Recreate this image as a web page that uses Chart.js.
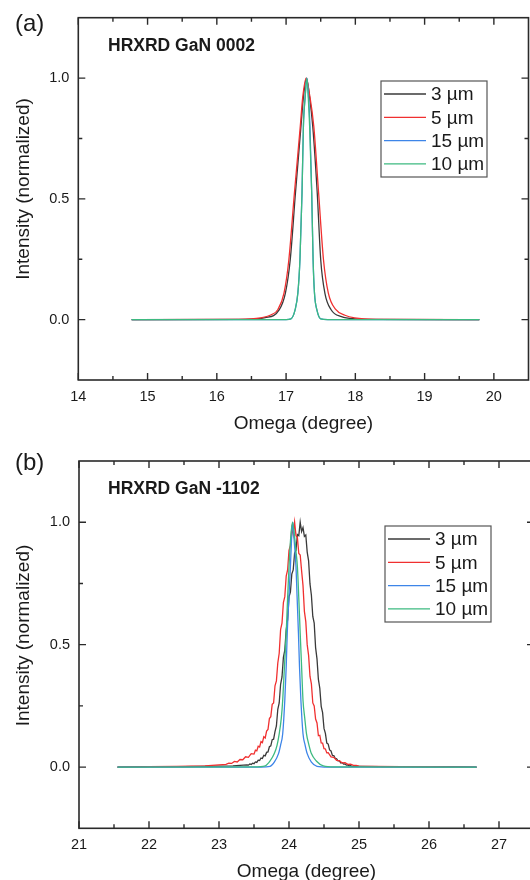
<!DOCTYPE html>
<html>
<head>
<meta charset="utf-8">
<script src="https://cdn.jsdelivr.net/npm/chart.js@4.4.0/dist/chart.umd.min.js"></script>
<style>
  html, body { margin: 0; padding: 0; background: #fff; overflow: hidden; }
  body { width: 530px; height: 880px; position: relative; font-family: "Liberation Sans", Arial, sans-serif; color: #1a1a1a; }
  canvas { position: absolute; left: 0; }
  #chartA { top: 0; }
  #chartB { top: 440px; }
  .panel { position: absolute; left: 15px; font-size: 24px; line-height: 30px; }
  .heading { position: absolute; left: 108px; font-weight: bold; font-size: 17.5px; line-height: 20px; }
</style>
</head>
<body>
<canvas id="chartA" width="530" height="440"></canvas>
<canvas id="chartB" width="540" height="450"></canvas>
<div class="panel" style="top:8px">(a)</div>
<div class="heading" style="top:35px">HRXRD GaN 0002</div>
<div class="panel" style="top:447px">(b)</div>
<div class="heading" style="top:478px">HRXRD GaN -1102</div>
<script>
// legend labels, in legend order
const labels = ['3 µm', '5 µm', '15 µm', '10 µm'];

// tick labels
const xTicksA = [14, 15, 16, 17, 18, 19, 20];
const xTicksB = [21, 22, 23, 24, 25, 26, 27];
const yTicks = [0, 0.5, 1.0];

// (a) GaN 0002 rocking curves
const aX3 = [14.77, 16.4, 16.7, 16.9, 16.99, 17.06, 17.135, 17.215, 17.25, 17.295, 17.34, 17.385, 17.45, 17.50, 17.56, 17.65, 17.8, 18.0, 18.3, 19.79];
const aY3 = [0, 0.001, 0.008, 0.04, 0.11, 0.248, 0.523, 0.80, 0.92, 1.0, 0.92, 0.80, 0.523, 0.248, 0.11, 0.041, 0.012, 0.003, 0.001, 0];
const aX5 = [14.77, 16.3, 16.63, 16.8, 16.88, 16.97, 17.04, 17.12, 17.205, 17.24, 17.29, 17.34, 17.40, 17.47, 17.54, 17.61, 17.72, 17.85, 17.99, 18.3, 19.79];
const aY5 = [0, 0.001, 0.007, 0.022, 0.041, 0.11, 0.248, 0.523, 0.80, 0.92, 1.0, 0.93, 0.80, 0.523, 0.248, 0.11, 0.041, 0.018, 0.007, 0.001, 0];
const aX15 = [14.77, 17.0, 17.07, 17.13, 17.17, 17.20, 17.23, 17.25, 17.275, 17.30, 17.325, 17.345, 17.37, 17.39, 17.41, 17.445, 17.50, 17.6, 19.79];
const aY15 = [0, 0, 0.003, 0.04, 0.11, 0.248, 0.523, 0.80, 0.92, 1.0, 0.92, 0.80, 0.523, 0.248, 0.11, 0.04, 0.003, 0, 0];
const aX10 = [14.77, 17.0, 17.07, 17.13, 17.17, 17.20, 17.23, 17.25, 17.275, 17.30, 17.32, 17.34, 17.37, 17.39, 17.41, 17.445, 17.50, 17.6, 19.79];
const aY10 = [0, 0, 0.003, 0.04, 0.11, 0.248, 0.523, 0.80, 0.92, 1.0, 0.92, 0.80, 0.523, 0.248, 0.11, 0.04, 0.003, 0, 0];

// (b) GaN -1102 rocking curves (3 and 5 µm are noisy scans)
const bX3 = [21.55, 22.0, 22.5, 23.0, 23.2, 23.3,
  23.40, 23.42, 23.44, 23.46, 23.48, 23.50, 23.52, 23.54, 23.56, 23.58,
  23.60, 23.62, 23.64, 23.66, 23.68, 23.70, 23.72, 23.74, 23.76, 23.78,
  23.80, 23.82, 23.84, 23.86, 23.88, 23.90, 23.92, 23.94, 23.96, 23.98,
  24.00, 24.02, 24.04, 24.06, 24.08, 24.10, 24.12, 24.14, 24.16, 24.18,
  24.20, 24.22, 24.24, 24.26, 24.28, 24.30, 24.32, 24.34, 24.36, 24.38,
  24.40, 24.42, 24.44, 24.46, 24.48, 24.50, 24.52, 24.54, 24.56, 24.58,
  24.60, 24.62, 24.64, 24.66, 24.68, 24.70, 24.72, 24.74, 24.76, 24.78,
  24.80, 24.82, 24.84, 24.86, 24.88, 24.90,
  25.0, 25.3, 25.6, 26.0, 26.3, 26.68];
const bY3 = [0, 0.002, 0.002, 0.004, 0.005, 0.007,
  0.009, 0.008, 0.013, 0.011, 0.016, 0.014, 0.021, 0.019, 0.028, 0.027,
  0.037, 0.035, 0.048, 0.046, 0.060, 0.062, 0.083, 0.087, 0.112, 0.114,
  0.145, 0.168, 0.236, 0.262, 0.338, 0.368, 0.448, 0.478, 0.560, 0.602,
  0.695, 0.714, 0.788, 0.805, 0.874, 0.885, 0.950, 0.945, 1.0, 0.962,
  0.978, 0.942, 0.948, 0.878, 0.842, 0.748, 0.702, 0.615, 0.588, 0.488,
  0.442, 0.358, 0.322, 0.248, 0.222, 0.158, 0.138, 0.098, 0.094, 0.070,
  0.066, 0.048, 0.047, 0.036, 0.034, 0.025, 0.025, 0.017, 0.018, 0.012,
  0.013, 0.008, 0.009, 0.005, 0.006, 0.003,
  0.003, 0.002, 0.002, 0.001, 0.002, 0];
const bX5 = [21.55, 22.0, 22.4, 22.8,
  23.10, 23.14, 23.18, 23.22, 23.26, 23.30, 23.34, 23.38, 23.42, 23.46, 23.50,
  23.52, 23.54, 23.56, 23.58, 23.60, 23.62, 23.64, 23.66, 23.68, 23.70,
  23.72, 23.74, 23.76, 23.78, 23.80, 23.82, 23.84, 23.86, 23.88, 23.90,
  23.92, 23.94, 23.96, 23.98, 24.00, 24.02, 24.04, 24.06, 24.08, 24.10,
  24.12, 24.14, 24.16, 24.18, 24.20, 24.22, 24.24, 24.26, 24.28, 24.30,
  24.32, 24.34, 24.36, 24.38, 24.40, 24.42, 24.44, 24.46, 24.48, 24.50,
  24.52, 24.54, 24.56,
  24.60, 24.64, 24.68, 24.72, 24.76, 24.80, 24.84, 24.88, 24.92, 24.96, 25.00,
  25.2, 25.6, 26.0, 26.4, 26.68];
const bY5 = [0, 0.002, 0.003, 0.005,
  0.011, 0.016, 0.015, 0.023, 0.021, 0.031, 0.030, 0.042, 0.040, 0.055, 0.053,
  0.069, 0.066, 0.085, 0.082, 0.104, 0.100, 0.124, 0.119, 0.147, 0.154,
  0.198, 0.206, 0.256, 0.262, 0.332, 0.352, 0.425, 0.465, 0.562, 0.588,
  0.672, 0.696, 0.780, 0.805, 0.885, 0.905, 0.975, 0.948, 1.0, 0.945,
  0.938, 0.872, 0.866, 0.802, 0.742, 0.636, 0.594, 0.500, 0.456, 0.370,
  0.340, 0.262, 0.250, 0.196, 0.180, 0.128, 0.130, 0.099, 0.098, 0.075,
  0.074, 0.058, 0.059,
  0.042, 0.040, 0.027, 0.026, 0.017, 0.018, 0.011, 0.012, 0.007, 0.007, 0.004,
  0.003, 0.002, 0.002, 0.001, 0];
const bX15 = [21.55, 23.60, 23.73, 23.79, 23.85, 23.88, 23.91, 23.94, 23.96, 23.975, 24.00, 24.02, 24.035, 24.055, 24.075, 24.10, 24.115, 24.135, 24.15, 24.17, 24.20, 24.23, 24.26, 24.32, 24.40, 24.55, 26.68];
const bY15 = [0, 0, 0.003, 0.02, 0.055, 0.09, 0.136, 0.273, 0.41, 0.546, 0.70, 0.818, 0.92, 1.0, 0.92, 0.818, 0.70, 0.546, 0.41, 0.273, 0.136, 0.09, 0.055, 0.02, 0.003, 0, 0];
const bX10 = [21.55, 23.50, 23.66, 23.73, 23.79, 23.83, 23.86, 23.89, 23.91, 23.935, 23.96, 23.98, 24.00, 24.02, 24.05, 24.08, 24.10, 24.12, 24.14, 24.16, 24.18, 24.20, 24.225, 24.25, 24.285, 24.32, 24.39, 24.49, 24.65, 26.68];
const bY10 = [0, 0.001, 0.005, 0.025, 0.055, 0.09, 0.136, 0.2, 0.273, 0.41, 0.546, 0.69, 0.818, 0.92, 1.0, 0.94, 0.88, 0.818, 0.69, 0.546, 0.41, 0.273, 0.2, 0.136, 0.09, 0.055, 0.025, 0.005, 0.001, 0];

const FONT = "'Liberation Sans', Arial, sans-serif";
const INK = '#1a1a1a';
Chart.defaults.font.family = FONT;
Chart.defaults.color = INK;

const colors = ['#3a3a3a', '#f03030', '#3d85e8', '#3dba80'];
const drawOrder = [3, 2, 1, 0]; // 10 µm on top

function pts(xs, ys) {
  return xs.map((x, i) => ({ x: x, y: ys[i] }));
}

// frame with inward major/minor ticks on all four sides
const frameTicks = {
  id: 'frameTicks',
  afterDraw(chart) {
    const { ctx, chartArea: a, scales: { x, y } } = chart;
    ctx.save();
    ctx.strokeStyle = '#2a2a2a';
    ctx.lineWidth = 1.6;
    ctx.strokeRect(a.left, a.top, a.right - a.left, a.bottom - a.top);
    ctx.lineWidth = 1.4;
    const marks = (scale) => {
      const t = scale.ticks.map(k => k.value);
      const step = t[1] - t[0];
      const out = t.map(v => [v, 7]);
      for (let v = t[0] - step / 2; v < scale.max; v += step) {
        if (v > scale.min && v < scale.max) out.push([v, 4]);
      }
      return out;
    };
    ctx.beginPath();
    marks(x).forEach(([v, len]) => {
      const px = x.getPixelForValue(v);
      ctx.moveTo(px, a.bottom); ctx.lineTo(px, a.bottom - len);
      ctx.moveTo(px, a.top); ctx.lineTo(px, a.top + len);
    });
    marks(y).forEach(([v, len]) => {
      const py = y.getPixelForValue(v);
      ctx.moveTo(a.left, py); ctx.lineTo(a.left + len, py);
      ctx.moveTo(a.right, py); ctx.lineTo(a.right - len, py);
    });
    ctx.stroke();
    ctx.restore();
  }
};

// y axis title, sits a little above the plot centre as in the figure
const yTitle = {
  id: 'yTitle',
  afterDraw(chart, args, opts) {
    const ctx = chart.ctx;
    ctx.save();
    ctx.translate(23.4, opts.centerY);
    ctx.rotate(-Math.PI / 2);
    ctx.font = '19px ' + FONT;
    ctx.fillStyle = INK;
    ctx.textAlign = 'center';
    ctx.textBaseline = 'middle';
    ctx.fillText('Intensity (normalized)', 0, 0);
    ctx.restore();
  }
};

// boxed legend inside the plot
const boxLegend = {
  id: 'boxLegend',
  afterDraw(chart, args, opts) {
    const ctx = chart.ctx;
    const { left, top } = opts;
    ctx.save();
    ctx.strokeStyle = '#555';
    ctx.lineWidth = 1.2;
    ctx.strokeRect(left, top, 106, 96);
    ctx.font = '19px ' + FONT;
    ctx.textBaseline = 'middle';
    ctx.fillStyle = INK;
    chart.data.datasets.forEach((ds, i) => {
      const ry = top + 13 + i * 23.3;
      ctx.strokeStyle = ds.borderColor;
      ctx.lineWidth = 1.3;
      ctx.beginPath();
      ctx.moveTo(left + 3, ry); ctx.lineTo(left + 45, ry);
      ctx.stroke();
      ctx.fillText(ds.label, left + 50, ry + 1);
    });
    ctx.restore();
  }
};

function makeChart(id, series, opt) {
  const datasets = series.map((s, i) => ({
    label: labels[i],
    data: pts(s[0], s[1]),
    borderColor: colors[i],
    borderWidth: 1.3,
    pointRadius: 0,
    fill: false,
    order: drawOrder[i],
    tension: 0,
    cubicInterpolationMode: s[2] ? 'default' : 'monotone'
  }));
  return new Chart(document.getElementById(id), {
    type: 'line',
    data: { datasets: datasets },
    plugins: [frameTicks, yTitle, boxLegend],
    options: {
      responsive: false,
      animation: false,
      layout: { padding: opt.padding },
      plugins: {
        legend: { display: false },
        tooltip: { enabled: false },
        boxLegend: opt.legend,
        yTitle: { centerY: opt.yTitleY }
      },
      scales: {
        x: {
          type: 'linear', min: opt.xMin, max: opt.xMax,
          afterBuildTicks: s => { s.ticks = opt.xTicks.map(v => ({ value: v })); },
          afterFit: s => { s.height = opt.bottomH; },
          grid: { display: false, drawTicks: false },
          border: { display: false },
          ticks: { font: { size: 14.5 }, color: INK, padding: 8, maxRotation: 0, callback: v => String(v) },
          title: { display: true, text: 'Omega (degree)', font: { size: 19 }, color: INK, padding: { top: 0, bottom: opt.titlePad } }
        },
        y: {
          type: 'linear', min: -0.25, max: 1.25,
          afterBuildTicks: s => { s.ticks = yTicks.map(v => ({ value: v })); },
          afterFit: s => { s.width = opt.leftW; },
          grid: { display: false, drawTicks: false },
          border: { display: false },
          ticks: { font: { size: 14.5 }, color: INK, padding: 9, callback: v => Number(v).toFixed(1) },
          title: { display: false }
        }
      }
    }
  });
}

makeChart('chartA',
  [[aX3, aY3], [aX5, aY5], [aX15, aY15], [aX10, aY10]],
  { xMin: 14, xMax: 20.5, xTicks: xTicksA, padding: { top: 17, right: 1.5, left: 0, bottom: 0 },
    leftW: 78.3, bottomH: 60, titlePad: 4.6, legend: { left: 381, top: 81 }, yTitleY: 189 });

makeChart('chartB',
  [[bX3, bY3, true], [bX5, bY5, true], [bX15, bY15], [bX10, bY10]],
  { xMin: 21, xMax: 27.5, xTicks: xTicksB, padding: { top: 21, right: 6, left: 0, bottom: 0 },
    leftW: 79, bottomH: 61.7, titlePad: 6.9, legend: { left: 385, top: 86 }, yTitleY: 195.5 });
</script>
</body>
</html>
